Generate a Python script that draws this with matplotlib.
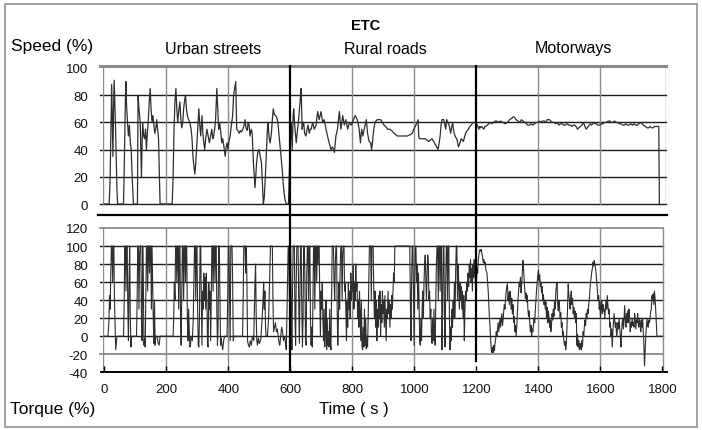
import matplotlib
matplotlib.use("Agg")
import matplotlib.pyplot as plt
from matplotlib.patches import Rectangle

plt.rcParams['font.family'] = ['Liberation Sans', 'DejaVu Sans']

# ---------------- data (time s, percent) ----------------
speed_urban = [
    (0, 0), (16, 0), (19, 20), (22, 60), (24, 88), (26, 60), (28, 35), (30, 70), (32, 91), (34, 75),
    (36, 60), (38, 40), (41, 10), (43, 0), (62, 0), (64, 20), (66, 50), (68, 75), (70, 90), (72, 72),
    (75, 60), (78, 50), (81, 58), (84, 45), (87, 40), (90, 20), (94, 0), (107, 0), (109, 80), (112, 70),
    (116, 60), (118, 40), (120, 20), (122, 45), (124, 60), (127, 50), (130, 48), (133, 55), (136, 40),
    (139, 52), (142, 62), (145, 75), (148, 85), (151, 70), (154, 60), (157, 65), (160, 58), (163, 52),
    (166, 55), (169, 62), (172, 55), (175, 48), (178, 20), (180, 0), (219, 0), (222, 20), (225, 55),
    (228, 75), (231, 85), (234, 70), (237, 60), (240, 68), (244, 75), (247, 62), (250, 56), (253, 60),
    (256, 70), (259, 76), (262, 80), (265, 70), (268, 65), (272, 62), (276, 60), (280, 55), (283, 48),
    (286, 35), (289, 28), (292, 22), (295, 30), (298, 42), (301, 55), (305, 70), (308, 58), (311, 50),
    (315, 65), (318, 52), (321, 45), (324, 40), (327, 48), (331, 55), (335, 50), (339, 45), (343, 50),
    (347, 55), (350, 48), (353, 50), (356, 55), (359, 62), (363, 85), (366, 70), (369, 55), (372, 60),
    (376, 52), (379, 45), (382, 48), (386, 42), (390, 35), (393, 42), (396, 45), (399, 40), (402, 46),
    (406, 50), (410, 58), (414, 65), (417, 80), (421, 86), (424, 90), (427, 55), (431, 54), (435, 52),
    (439, 54), (443, 53), (447, 55), (451, 58), (454, 62), (457, 56), (461, 54), (464, 60), (467, 58),
    (470, 50), (474, 55), (477, 52), (481, 30), (484, 20), (486, 12), (489, 22), (491, 30), (495, 38),
    (499, 40), (503, 35), (507, 30), (510, 15), (513, 0), (516, 5), (519, 18), (523, 40), (526, 55),
    (528, 60), (532, 48), (535, 45), (539, 52), (542, 62), (545, 70), (548, 66), (552, 65), (556, 64),
    (560, 60), (563, 52), (566, 45), (570, 35), (574, 25), (577, 15), (580, 8), (583, 3), (587, 0),
    (594, 0), (597, 25),
]
speed_rural = [
    (600, 45), (603, 60), (606, 40), (609, 65), (611, 70), (614, 58), (617, 50), (619, 45), (622, 52),
    (626, 60), (630, 72), (633, 80), (635, 85), (638, 55), (641, 60), (643, 60), (646, 52), (650, 50),
    (654, 55), (657, 58), (661, 52), (664, 55), (667, 55), (672, 60), (677, 55), (683, 58), (688, 68),
    (693, 62), (699, 68), (704, 60), (709, 62), (715, 55), (720, 50), (725, 45), (731, 40), (736, 42),
    (742, 38), (747, 50), (752, 55), (758, 68), (763, 55), (769, 65), (774, 58), (779, 62), (785, 55),
    (790, 60), (796, 58), (801, 60), (805, 63), (809, 65), (814, 63), (818, 60), (822, 55), (826, 45),
    (830, 55), (834, 50), (839, 56), (845, 62), (849, 52), (854, 46), (859, 45), (862, 40), (866, 48),
    (869, 55), (873, 60), (880, 62), (886, 62), (891, 62), (897, 60), (902, 58), (908, 57), (913, 55),
    (920, 55), (927, 54), (934, 52), (940, 51), (945, 50), (955, 50), (966, 50), (977, 50), (987, 51),
    (993, 52), (998, 55), (1005, 58), (1010, 61), (1012, 62), (1014, 50), (1016, 48), (1025, 48),
    (1035, 48), (1046, 46), (1057, 48), (1062, 46), (1067, 44), (1072, 42), (1076, 40), (1080, 45),
    (1083, 50), (1086, 58), (1089, 62), (1095, 62), (1101, 55), (1104, 62), (1108, 60), (1112, 58),
    (1117, 52), (1123, 60), (1128, 52), (1133, 49), (1137, 48), (1142, 42), (1147, 45), (1151, 48),
    (1158, 46), (1165, 52), (1170, 54), (1174, 55), (1179, 57), (1183, 58), (1190, 60), (1197, 60),
]
speed_motorway = [
    (1203, 58), (1208, 55), (1211, 57), (1213, 56), (1217, 57), (1220, 56), (1224, 55), (1227, 57),
    (1230, 57), (1235, 58), (1240, 59), (1245, 60), (1250, 59), (1255, 60), (1260, 61), (1265, 61),
    (1270, 60), (1277, 61), (1285, 60), (1293, 59), (1300, 60), (1307, 62), (1314, 63), (1318, 64),
    (1322, 64), (1328, 62), (1334, 61), (1340, 60), (1345, 62), (1350, 61), (1356, 60), (1361, 59),
    (1366, 58), (1372, 58), (1377, 59), (1382, 58), (1387, 59), (1393, 60), (1398, 60), (1403, 61),
    (1408, 60), (1412, 61), (1419, 61), (1424, 60), (1428, 62), (1435, 62), (1440, 61), (1445, 60),
    (1450, 60), (1456, 59), (1461, 60), (1466, 58), (1471, 59), (1477, 59), (1482, 58), (1487, 58),
    (1492, 59), (1498, 58), (1503, 58), (1509, 57), (1513, 58), (1517, 58), (1521, 57), (1526, 55),
    (1530, 56), (1535, 57), (1540, 58), (1545, 60), (1550, 57), (1554, 55), (1560, 57), (1567, 59),
    (1572, 58), (1577, 60), (1582, 59), (1587, 59), (1592, 58), (1598, 58), (1603, 59), (1608, 59),
    (1614, 60), (1619, 60), (1625, 61), (1630, 61), (1635, 60), (1640, 60), (1645, 61), (1651, 60),
    (1656, 60), (1661, 59), (1666, 59), (1672, 58), (1677, 58), (1682, 59), (1687, 58), (1692, 58),
    (1698, 59), (1703, 58), (1708, 59), (1713, 58), (1719, 58), (1724, 59), (1731, 60), (1735, 59),
    (1738, 58), (1745, 57), (1750, 56), (1755, 56), (1760, 57), (1766, 56), (1770, 56), (1774, 57),
    (1780, 57), (1788, 57), (1790, 0),
]

torque_urban = [
    (0, 0), (12, 0), (15, 15), (17, 45), (19, 30), (21, 70), (23, 100), (25, 100), (27, 60), (29, 100),
    (31, 100), (33, 40), (35, 10), (37, -15), (39, -8), (41, 0), (62, 0), (64, 30), (66, 100), (68, 100),
    (70, 50), (72, 100), (74, 100), (76, 30), (78, -5), (80, 60), (82, 100), (84, 20), (86, -12), (88, -2),
    (90, 0), (104, 0), (106, 40), (108, 100), (110, 100), (112, 30), (114, 90), (116, 100), (118, 100),
    (120, 20), (122, -5), (124, 100), (126, 60), (128, -10), (130, -3), (132, -12), (134, 40), (136, 100),
    (138, 100), (140, 50), (142, 100), (144, 100), (146, 70), (148, 100), (150, 100), (152, 30),
    (154, 100), (156, 60), (158, 20), (160, -8), (162, 40), (164, -10), (166, 0), (170, 0), (174, -8),
    (177, -10), (180, 0), (222, 0), (224, 20), (226, 60), (228, 40), (230, 100), (232, 100), (234, 60),
    (236, 100), (238, 100), (240, 30), (242, 100), (244, 100), (246, 20), (248, -10), (250, 50),
    (252, 100), (254, 100), (256, 40), (258, 100), (260, 100), (262, 60), (264, 100), (266, 100),
    (268, 20), (270, -5), (272, 30), (274, 10), (276, -12), (278, -10), (280, 0), (284, -5), (287, 20),
    (289, 60), (291, 100), (293, 100), (295, 40), (297, 100), (299, 100), (301, 30), (303, -10),
    (305, -12), (307, 20), (309, 100), (311, 100), (313, 40), (315, -10), (317, 50), (319, 30), (321, 70),
    (323, 40), (325, 65), (327, 30), (329, 70), (331, 40), (333, -10), (335, -12), (337, 60), (339, 30),
    (341, 50), (343, -5), (345, 40), (347, 100), (349, 100), (351, 50), (353, 100), (355, 100), (357, 60),
    (359, 100), (361, 100), (363, 30), (365, -10), (367, 10), (369, 100), (371, 100), (373, 40),
    (375, -10), (377, -2), (379, -8), (382, -15), (385, -5), (388, 0), (396, 0), (398, 40), (400, 100),
    (402, 100), (404, 50), (406, -5), (408, 100), (410, 100), (412, 100), (414, 60), (416, -5), (418, 0),
    (446, 0), (448, 40), (450, 100), (452, 100), (454, 100), (456, 70), (458, 100), (460, 60), (462, -5),
    (465, -10), (468, -12), (471, -5), (474, -10), (478, 0), (482, -5), (486, 60), (488, 80), (490, 20),
    (492, -5), (494, -10), (497, -2), (500, -8), (505, -3), (509, 20), (512, 40), (514, 60), (516, 30),
    (518, 50), (520, 10), (522, 0), (526, 0), (530, 20), (533, 60), (536, 100), (539, 100), (542, 100),
    (544, 40), (546, 5), (549, 10), (552, 15), (555, 5), (558, 8), (561, 0), (564, -8), (566, -10),
    (569, 0), (572, 10), (575, 5), (578, -5), (582, 0), (585, -10), (587, -15), (589, 20), (591, 60),
    (593, 100), (595, 100), (597, 40), (599, 100),
]
torque_rural = [
    (601, 100), (603, 30), (605, -15), (607, 50), (609, 100), (611, 100), (613, 100), (615, 20),
    (617, -10), (619, 60), (621, 100), (623, 100), (625, 100), (627, 40), (629, -8), (631, 50),
    (633, 100), (635, 100), (637, 30), (639, -12), (641, 20), (643, 100), (645, 100), (647, 60),
    (649, -5), (651, -10), (653, 70), (655, 100), (657, 100), (659, 40), (661, 100), (663, 100),
    (665, 20), (667, -10), (669, 10), (671, -12), (673, 40), (675, 100), (677, 100), (679, 30),
    (681, 100), (683, 100), (685, 60), (687, 100), (689, 80), (691, 100), (693, 100), (695, 40),
    (697, 0), (699, 50), (701, 30), (703, 60), (705, 20), (707, -5), (709, 30), (711, -12), (713, 10),
    (715, 40), (717, -15), (719, 20), (721, -10), (723, 5), (725, -12), (727, 30), (729, -8), (731, -15),
    (733, 40), (735, 100), (737, 100), (739, 100), (741, 60), (743, 40), (745, 80), (747, 100),
    (749, 100), (751, 30), (753, -10), (755, 20), (757, 60), (759, 30), (761, 80), (763, 100),
    (765, 100), (767, 40), (769, 90), (771, 100), (773, 100), (775, 50), (777, 60), (779, 30), (781, -5),
    (783, 40), (785, 10), (787, 60), (789, 30), (791, 50), (793, 20), (795, 70), (797, 40), (799, 60),
    (801, 50), (803, 80), (805, 30), (807, 60), (809, 40), (811, 80), (813, 50), (815, 60), (817, 20),
    (819, 40), (821, 10), (823, 50), (825, 20), (827, -5), (829, 40), (831, -10), (833, -15), (835, 10),
    (837, -12), (839, 30), (841, -10), (843, 20), (845, -14), (847, 0), (849, -12), (851, 20), (853, 60),
    (855, 100), (857, 100), (859, 100), (861, 40), (863, 100), (865, 100), (867, 100), (869, 50),
    (871, 20), (873, 50), (875, 10), (877, 40), (879, -5), (881, 30), (883, 10), (885, 45), (887, 20),
    (889, 50), (891, 0), (893, 35), (895, 15), (897, 50), (899, 25), (901, 40), (903, 10), (905, 45),
    (907, 20), (909, -5), (911, 30), (913, 20), (915, 50), (917, 25), (919, 40), (921, 10), (923, 35),
    (925, 20), (927, 45), (929, 30), (931, 50), (933, 70), (935, 60), (937, 100), (985, 100), (987, 40),
    (989, -5), (991, 60), (993, 100), (995, 100), (997, 50), (999, -10), (1001, 60), (1003, 100),
    (1005, 100), (1007, 60), (1009, 80), (1011, 30), (1013, 70), (1015, 40), (1017, -5), (1019, -10),
    (1021, 20), (1023, -5), (1025, 30), (1027, 50), (1029, 20), (1031, 60), (1033, 80), (1035, 90),
    (1037, 60), (1039, 40), (1041, 70), (1043, 90), (1045, 80), (1047, 40), (1049, 50), (1051, 20),
    (1053, 30), (1055, 0), (1057, -8), (1059, 20), (1061, -5), (1063, 30), (1065, 0), (1067, -10),
    (1069, 40), (1071, 80), (1073, 100), (1075, 100), (1077, 40), (1079, 100), (1081, 100), (1083, 50),
    (1085, 100), (1087, 100), (1089, -15), (1091, 30), (1093, 100), (1095, 100), (1097, 20),
    (1099, -12), (1101, 60), (1103, 100), (1105, 100), (1107, 40), (1109, 100), (1111, 100), (1113, 20),
    (1115, -15), (1117, 10), (1119, -5), (1121, 30), (1123, 10), (1125, 40), (1127, 20), (1129, 60),
    (1131, 20), (1133, 70), (1135, 100), (1137, 100), (1139, 40), (1141, 80), (1143, 60), (1145, 30),
    (1147, 60), (1149, 40), (1151, 55), (1153, 30), (1155, 50), (1157, 20), (1159, 45), (1161, -5),
    (1163, 30), (1165, 50), (1167, 40), (1169, 60), (1171, 50), (1173, 70), (1175, 55), (1177, 80),
    (1179, 65), (1181, 85), (1183, 60), (1185, 75), (1187, 50), (1189, 80), (1191, 65), (1193, 85),
    (1195, 70), (1197, 60), (1199, 75),
]
# motorway torque, one reading every 2 s from 1200 s to 1800 s
torque_motorway_start = 1200
torque_motorway_step = 2
torque_motorway = [
    60, 75, 70, 85, 90, 95, 96, 94, 96, 90, 88, 82, 85, 80, 82, 75, 72, 70, 60, 50, 35,
    20, 10, -5, -15, -18, -12, -18, -10, -16, -8, -3, 5, 0, 8, 15, 5, 12, 20, 10, 18, 25, 12, 18, 28,
    35, 30, 42, 50, 55, 58,
    40, 48, 35, 50, 45, 30, 42, 25, 35, 15, 22, 5, 12, 0, 10, 25, 40, 50, 60, 55,
    65, 48, 58, 70, 84, 75, 62, 50, 42, 48, 38, 45, 30, 22, 28, 15, 5, 12, 0, 8,
    5, 12, 20, 15, 30, 40, 52, 60, 68, 73, 62, 68, 55, 60, 48, 55, 40, 46, 35, 40,
    30, 38, 20, 32, 15, 28, 22, 10, 18, 5, 12, 25, 18, 30, 22, 40, 30, 50, 56, 60,
    35, 28, 40, 32, 20, 26, 10, 15, 0, 5, -5, -10, -6, -15, -8, 10, 35, 58, 45, 40,
    30, 45, 50, 35, 42, 25, 32, 20, 28, 15, 25, -10, 2, -12, -5, -15, -8, -12, -15, -5,
    -12, 5, 0, 10, 18, 12, 25, 20, 30, 25, 35, 40, 52, 60, 65, 72, 75, 82, 78, 84,
    80, 75, 70, 60, 50, 41, 45, 30, 38, 20, 32, 40, 25, 35, 28, 30, 20, 32, 40, 30,
    45, 35, 25, 30, 10, 15, 0, 8, -12, 5, 15, 25, 18, 10, 15, 0, 5, 15, 8, 20,
    10, 0, -12, 5, 15, 20, 8, 18, 34, 20, 10, 25, 15, 28, 15, 30, 20, 5, 15, 10,
    20, 12, 15, 10, 25, 20, 8, 18, 15, 25, 12, 10, 20, 15, 5, 18, 10, 20, 5, -10,
    -33, -15, 0, 10, 20, 12, 10, 18, 15, 20, 28, 30, 45, 40, 47, 35, 50, 42, 30, 15,
    0, 0, 0, 0, 0, 0, 0, 0, 0, 0,
]

section_names = ["Urban streets", "Rural roads", "Motorways"]
x_ticks = [0, 200, 400, 600, 800, 1000, 1200, 1400, 1600, 1800]
speed_ticks = [0, 20, 40, 60, 80, 100]
torque_ticks = [-40, -20, 0, 20, 40, 60, 80, 100, 120]

# ---------------- layout helpers (pixel based) ----------------
W, H = 702, 431
fig = plt.figure(figsize=(W / 100, H / 100), dpi=100)


def rect(x0, y0, x1, y1):
    return [x0 / W, 1 - y1 / H, (x1 - x0) / W, (y1 - y0) / H]


XL, XR = 102.7, 665.6
XLIM = (-5, 1810)
ax1 = fig.add_axes(rect(XL, 66, XR, 216.7))
ax2 = fig.add_axes(rect(XL, 216.7, XR, 373.3))
ax1.set_xlim(*XLIM)
ax2.set_xlim(*XLIM)
ax1.set_ylim(-8.6, 102.2)
ax2.set_ylim(-40, 133.6)

for ax in (ax1, ax2):
    for s in ax.spines.values():
        s.set_visible(False)
    ax.patch.set_visible(False)

ink = '#1c1c1c'
grey = '#8a8a8a'

# top panel grid
for v in [0, 20, 40, 60, 80]:
    ax1.plot([-14, 1810], [v, v], color=ink, lw=1.0, zorder=1, clip_on=False)
ax1.plot([-14, 1810], [101.2, 101.2], color=grey, lw=2.2, zorder=1, clip_on=False)
for t in [-5, 200, 400, 800, 1000, 1400, 1600, 1810]:
    ax1.plot([t, t], [0, 101.2], color=grey, lw=1.0, zorder=1)
ax1.plot([-20, 1815], [-8.2, -8.2], color='black', lw=1.6, zorder=3, clip_on=False)

# bottom panel grid
for v in [0, 20, 40, 60, 80, 100]:
    ax2.plot([-14, 1801], [v, v], color=ink, lw=1.0, zorder=1, clip_on=False)
for v in [120, -20]:
    ax2.plot([-14, 1801], [v, v], color=grey, lw=1.3, zorder=1, clip_on=False)
for t in [-5, 200, 400, 800, 1000, 1400, 1600, 1801]:
    ax2.plot([t, t], [-40, 120], color=grey, lw=1.0, zorder=1)
ax2.plot([-12, 1815], [-40, -40], color='black', lw=1.4, zorder=3, clip_on=False)

# section boundaries at 600 s and 1200 s
for t, lo in [(600, -38), (1200, -28)]:
    ax1.plot([t, t], [-8.6, 102.2], color='black', lw=1.6, zorder=3)
    ax2.plot([t, t], [lo, 133.6], color='black', lw=1.6, zorder=3)

# data lines
line_col = '#2e2e2e'
sp = speed_urban + speed_rural + speed_motorway
tq_mw = [(torque_motorway_start + i * torque_motorway_step, v) for i, v in enumerate(torque_motorway)]
tq = torque_urban + torque_rural + tq_mw
ax1.plot([p[0] for p in sp], [p[1] for p in sp], color=line_col, lw=0.9, zorder=2)
ax2.plot([p[0] for p in tq], [p[1] for p in tq], color=line_col, lw=0.8, zorder=2)

# ticks
ax1.set_xticks([])
ax1.set_yticks(speed_ticks)
ax1.set_yticklabels([str(v) for v in speed_ticks])
ax2.set_yticks(torque_ticks)
ax2.set_yticklabels([str(v) for v in torque_ticks])
ax2.set_xticks(x_ticks)
ax2.set_xticklabels([str(v) for v in x_ticks])
for ax in (ax1, ax2):
    ax.tick_params(axis='y', length=0, pad=10.5, labelsize=9.5, colors='#111111')
ax2.tick_params(axis='x', direction='in', length=4, width=1.0, color='black', pad=8,
                labelsize=9.5, labelcolor='#111111')
ax2.xaxis.set_ticks_position('bottom')

# texts
fig.text(366 / W, 1 - 26 / H, "ETC", ha='center', va='center', fontsize=10.5, fontweight='bold')
fig.text(11 / W, 1 - 47 / H, "Speed (%)", ha='left', va='center', fontsize=12.5)
for name, xc in zip(section_names, [213, 385, 573]):
    fig.text(xc / W, 1 - 49 / H, name, ha='center', va='center', fontsize=11.5)
fig.text(10 / W, 1 - 410 / H, "Torque (%)", ha='left', va='center', fontsize=12.5)
fig.text(354 / W, 1 - 410 / H, "Time ( s )", ha='center', va='center', fontsize=12)

# outer frame
fig.add_artist(Rectangle((4.5 / W, 1 - 427.5 / H), 692 / W, 423 / H, transform=fig.transFigure,
                         fill=False, edgecolor='#9a9a9a', lw=1.3))

fig.savefig("out.png", dpi=100)
